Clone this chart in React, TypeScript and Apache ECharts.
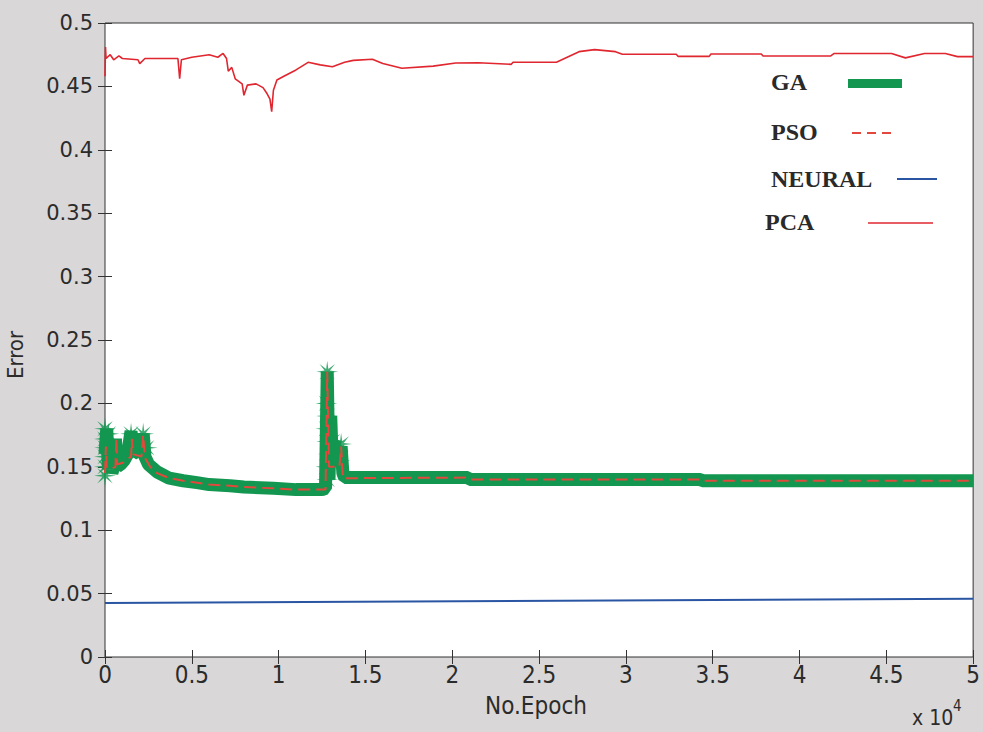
import React, { useEffect, useRef } from "react";
import * as echarts from "echarts";

// ---- data (epochs, error) ----
const gaX = [0, 100, 200, 300, 400, 500, 600, 700, 900, 1100, 1300, 1500, 1600, 1800, 2000, 2200, 2300, 2500, 3000, 3700, 4500, 5300, 6000, 7200, 8000, 9700, 11000, 12500, 12700, 12800, 12900, 13000, 13100, 13200, 13400, 13600, 13700, 13800, 20900, 21000, 34300, 34400, 50000];
const gaY = [0.16, 0.18, 0.148, 0.165, 0.145, 0.15, 0.172, 0.15, 0.152, 0.155, 0.16, 0.178, 0.16, 0.162, 0.16, 0.176, 0.158, 0.152, 0.146, 0.141, 0.139, 0.1375, 0.136, 0.135, 0.134, 0.133, 0.132, 0.132, 0.133, 0.225, 0.14, 0.19, 0.15, 0.17, 0.155, 0.166, 0.145, 0.1415, 0.1415, 0.140, 0.140, 0.139, 0.139];

const gaStarX = [0, 0, 0, 0, 0, 0, 200, 300, 1500, 2200, 2400, 12800, 12750, 12800, 12750, 12800, 12900, 12750, 12800, 13100, 13300, 13600, 13500];
const gaStarY = [0.18, 0.172, 0.165, 0.158, 0.15, 0.143, 0.176, 0.16, 0.176, 0.176, 0.165, 0.225, 0.2, 0.19, 0.18, 0.17, 0.16, 0.15, 0.14, 0.17, 0.165, 0.168, 0.155];

const psoX = [0, 50, 100, 300, 600, 650, 700, 1000, 1500, 1550, 1600, 2100, 2200, 2300, 2600, 3000, 3700, 4500, 5300, 6000, 7200, 8000, 9700, 11000, 12700, 12800, 12900, 13500, 13600, 13700, 20900, 21000, 34300, 34400, 50000];
const psoY = [0.145, 0.166, 0.15, 0.148, 0.15, 0.173, 0.152, 0.153, 0.158, 0.172, 0.16, 0.158, 0.175, 0.157, 0.15, 0.145, 0.141, 0.139, 0.1375, 0.136, 0.135, 0.134, 0.133, 0.132, 0.132, 0.225, 0.15, 0.15, 0.166, 0.141, 0.1415, 0.140, 0.140, 0.139, 0.139];

const neuralX = [0, 50000];
const neuralY = [0.0425, 0.046];

const pcaX = [0, 30, 60, 300, 500, 800, 1000, 1900, 2000, 2300, 4200, 4300, 4400, 5000, 6000, 6500, 6800, 7000, 7100, 7300, 7500, 7900, 8000, 8200, 8700, 9100, 9300, 9500, 9600, 9700, 9900, 10300, 11000, 11700, 12400, 13100, 13800, 14300, 15400, 16000, 17100, 18900, 20200, 21500, 23400, 23500, 26000, 27300, 28200, 29400, 29800, 32900, 33000, 34800, 34900, 37800, 37900, 41800, 42000, 45300, 46100, 47200, 48400, 49100, 50000];
const pcaY = [0.458, 0.481, 0.472, 0.475, 0.471, 0.474, 0.472, 0.471, 0.468, 0.472, 0.472, 0.456, 0.471, 0.473, 0.475, 0.473, 0.476, 0.472, 0.462, 0.465, 0.456, 0.452, 0.443, 0.451, 0.452, 0.449, 0.445, 0.44, 0.43, 0.447, 0.455, 0.458, 0.463, 0.469, 0.467, 0.4655, 0.469, 0.4705, 0.4714, 0.468, 0.4643, 0.466, 0.4685, 0.4687, 0.4674, 0.469, 0.469, 0.4774, 0.479, 0.4774, 0.4753, 0.4753, 0.4737, 0.4737, 0.4756, 0.4756, 0.474, 0.474, 0.476, 0.476, 0.4725, 0.476, 0.476, 0.4735, 0.4735];

const legendNames = ["GA", "PSO", "NEURAL", "PCA"];

const zip = (xs: number[], ys: number[]) => xs.map((x, i) => [x, ys[i]]);

// asterisk-like marker shape
const starPath = (() => {
  const pts: string[] = [];
  for (let i = 0; i < 16; i++) {
    const a = (i * Math.PI) / 8 - Math.PI / 2;
    const r = i % 2 === 0 ? 10 : 2.6;
    pts.push(`${(r * Math.cos(a)).toFixed(2)} ${(r * Math.sin(a)).toFixed(2)}`);
  }
  return "path://M" + pts.join(" L") + " Z";
})();

const GREEN = "#129650";
const PSO_RED = "#e2483c";
const BLUE = "#2a55a3";
const PCA_RED = "#e0262f";
const TXT = "#2b2b2b";
const COND = "'DejaVu Sans Condensed', 'DejaVu Sans'";

export default function App() {
  const ref = useRef<HTMLDivElement>(null);
  useEffect(() => {
    if (!ref.current) return;
    const chart = echarts.init(ref.current, undefined, { renderer: "svg" });
    const tickStyle = { show: true, inside: true, length: 7, lineStyle: { color: "#333", width: 1 } };
    const legendFont = { fontFamily: "Liberation Serif", fontWeight: "bold" as const, fontSize: 24, fill: "#2a2a2a" };
    chart.setOption({
      animation: false,
      backgroundColor: "#d9d7d7",
      grid: {
        left: 105, right: 8, top: 23, bottom: 75,
        show: true, backgroundColor: "#ffffff", borderColor: "#333", borderWidth: 1,
      },
      xAxis: [
        {
          type: "value", min: 0, max: 50000, interval: 5000, position: "bottom",
          axisLine: { show: false }, axisTick: tickStyle, splitLine: { show: false },
          axisLabel: { fontFamily: COND, fontSize: 24, color: TXT, margin: 6, formatter: (v: number) => String(v / 10000) },
        },
        {
          type: "value", min: 0, max: 50000, interval: 5000, position: "top",
          axisLine: { show: false }, axisTick: tickStyle, splitLine: { show: false },
          axisLabel: { show: false },
        },
      ],
      yAxis: [
        {
          type: "value", min: 0, max: 0.5, interval: 0.05, position: "left",
          axisLine: { show: false }, axisTick: tickStyle, splitLine: { show: false },
          axisLabel: { fontFamily: "DejaVu Sans", fontSize: 21, color: TXT, margin: 12, formatter: (v: number) => String(Math.round(v * 100) / 100) },
        },
        {
          type: "value", min: 0, max: 0.5, interval: 0.05, position: "right",
          axisLine: { show: false }, axisTick: tickStyle, splitLine: { show: false },
          axisLabel: { show: false },
        },
      ],
      series: [
        {
          name: "GA", type: "line", data: zip(gaX, gaY), showSymbol: false,
          lineStyle: { color: GREEN, width: 13, join: "bevel" }, itemStyle: { color: GREEN },
        },
        {
          name: "GA markers", type: "scatter", data: zip(gaStarX, gaStarY), clip: false,
          symbol: starPath, symbolSize: 22, itemStyle: { color: GREEN },
        },
        {
          name: "PSO", type: "line", data: zip(psoX, psoY), showSymbol: false,
          lineStyle: { color: PSO_RED, width: 2, type: [12, 6] }, itemStyle: { color: PSO_RED },
        },
        {
          name: "NEURAL", type: "line", data: zip(neuralX, neuralY), showSymbol: false,
          lineStyle: { color: BLUE, width: 2 }, itemStyle: { color: BLUE },
        },
        {
          name: "PCA", type: "line", data: zip(pcaX, pcaY), showSymbol: false,
          lineStyle: { color: PCA_RED, width: 1.6 }, itemStyle: { color: PCA_RED },
        },
      ],
      graphic: [
        { type: "text", left: 771, top: 70, style: { text: legendNames[0], ...legendFont } },
        { type: "rect", shape: { x: 848, y: 79, width: 54, height: 9 }, style: { fill: GREEN } },
        { type: "text", left: 771, top: 120, style: { text: legendNames[1], ...legendFont } },
        { type: "line", shape: { x1: 852, y1: 133, x2: 893, y2: 133 }, style: { stroke: PSO_RED, lineWidth: 2, lineDash: [9, 6] } },
        { type: "text", left: 771, top: 167, style: { text: legendNames[2], ...legendFont } },
        { type: "line", shape: { x1: 897, y1: 179, x2: 937, y2: 179 }, style: { stroke: BLUE, lineWidth: 2 } },
        { type: "text", left: 765, top: 210, style: { text: legendNames[3], ...legendFont } },
        { type: "line", shape: { x1: 868, y1: 223, x2: 933, y2: 223 }, style: { stroke: PCA_RED, lineWidth: 1.6 } },
        { type: "text", x: 536, y: 706, style: { text: "No.Epoch", fontFamily: COND, fontSize: 24, fill: TXT, align: "center", verticalAlign: "middle" } },
        { type: "text", x: 15, y: 355, rotation: Math.PI / 2, style: { text: "Error", fontFamily: COND, fontSize: 22, fill: TXT, align: "center", verticalAlign: "middle" } },
        { type: "text", x: 912, y: 718, style: { text: "x 10", fontFamily: COND, fontSize: 21, fill: TXT, align: "left", verticalAlign: "middle" } },
        { type: "text", x: 953, y: 706, style: { text: "4", fontFamily: COND, fontSize: 15, fill: TXT, align: "left", verticalAlign: "middle" } },
      ],
    });
    return () => chart.dispose();
  }, []);
  return (
    <div
      ref={ref}
      style={{ position: "absolute", left: 0, top: 0, width: 983, height: 732 }}
    />
  );
}
